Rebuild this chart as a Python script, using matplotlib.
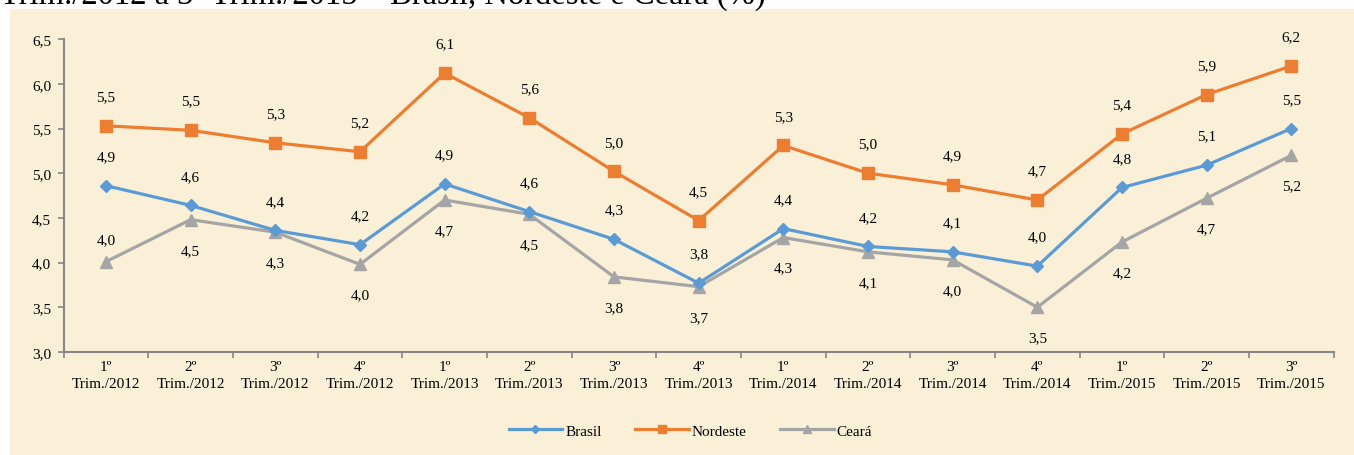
import matplotlib
matplotlib.use("Agg")
import matplotlib.pyplot as plt
import matplotlib.patches as mpatches
import numpy as np

plt.rcParams['font.family'] = ['Liberation Serif', 'DejaVu Serif']

# dados
trimestres = ['1º\nTrim./2012', '2º\nTrim./2012', '3º\nTrim./2012', '4º\nTrim./2012',
              '1º\nTrim./2013', '2º\nTrim./2013', '3º\nTrim./2013', '4º\nTrim./2013',
              '1º\nTrim./2014', '2º\nTrim./2014', '3º\nTrim./2014', '4º\nTrim./2014',
              '1º\nTrim./2015', '2º\nTrim./2015', '3º\nTrim./2015']
brasil = [4.86, 4.64, 4.36, 4.20, 4.88, 4.57, 4.26, 3.77, 4.38, 4.18, 4.12, 3.96, 4.84, 5.09, 5.50]
nordeste = [5.53, 5.48, 5.34, 5.24, 6.12, 5.62, 5.02, 4.47, 5.31, 5.00, 4.87, 4.70, 5.44, 5.88, 6.20]
ceara = [4.01, 4.48, 4.34, 3.98, 4.70, 4.54, 3.84, 3.73, 4.28, 4.12, 4.03, 3.50, 4.23, 4.72, 5.20]

titulo = 'Trim./2012 a 3º Trim./2015 – Brasil, Nordeste e Ceará (%)'

fig = plt.figure(figsize=(13.54, 4.56), dpi=100)
fig.patch.set_facecolor('white')
# fundo bege
fig.patches.append(mpatches.Rectangle((10/1354, 0), 1, 1 - 10/456, transform=fig.transFigure,
                                      facecolor='#FAF0D8', edgecolor='none', zorder=-10))
fig.text(0.0, 1 - 4/456, titulo, ha='left', va='baseline', fontsize=23.5, color='black')

ax = fig.add_axes([0.047, 0.226, 0.938, 0.686])
ax.set_facecolor('none')

x = np.arange(len(trimestres))
cor_br, cor_ne, cor_ce = '#5B9BD5', '#ED7D31', '#A5A5A5'

ax.plot(x, brasil, color=cor_br, lw=2.3, marker='D', ms=6.5, label='Brasil', zorder=4)
ax.plot(x, nordeste, color=cor_ne, lw=2.3, marker='s', ms=8, label='Nordeste', zorder=3)
ax.plot(x, ceara, color=cor_ce, lw=2.3, marker='^', ms=9, label='Ceará', zorder=2)

def fmt(v):
    return f'{v:.1f}'.replace('.', ',')

fs = 11
for i in range(len(x)):
    ax.annotate(fmt(brasil[i]), (x[i], brasil[i]), xytext=(0, 21), textcoords='offset points',
                ha='center', va='center', fontsize=fs)
    ax.annotate(fmt(nordeste[i]), (x[i], nordeste[i]), xytext=(0, 21), textcoords='offset points',
                ha='center', va='center', fontsize=fs)
    dy = 16 if i == 0 else -22
    ax.annotate(fmt(ceara[i]), (x[i], ceara[i]), xytext=(0, dy), textcoords='offset points',
                ha='center', va='center', fontsize=fs)

ax.set_xlim(-0.5, len(x) - 0.5)
ax.set_ylim(3.0, 6.5)
ax.set_yticks(np.arange(3.0, 6.51, 0.5))
ax.set_yticklabels([fmt(v) for v in np.arange(3.0, 6.51, 0.5)], fontsize=fs)
ax.set_xticks(x)
ax.set_xticklabels(trimestres, fontsize=fs, linespacing=1.35)
ax.set_xticks(np.arange(-0.5, len(x), 1), minor=True)
ax.tick_params(axis='x', which='major', length=0, pad=6)
ax.tick_params(axis='x', which='minor', length=4, color='#868686', width=1.2)
ax.tick_params(axis='y', length=4, color='#868686', width=1.2, pad=5)

for s in ['top', 'right']:
    ax.spines[s].set_visible(False)
for s in ['left', 'bottom']:
    ax.spines[s].set_color('#868686')
    ax.spines[s].set_linewidth(1.5)

fig.legend(loc='center', bbox_to_anchor=(0.51, 0.053), ncol=3, frameon=False, fontsize=fs,
           handlelength=3.5, columnspacing=2.2, handletextpad=0.2, markerscale=0.7)

plt.savefig('out.png', dpi=100)
